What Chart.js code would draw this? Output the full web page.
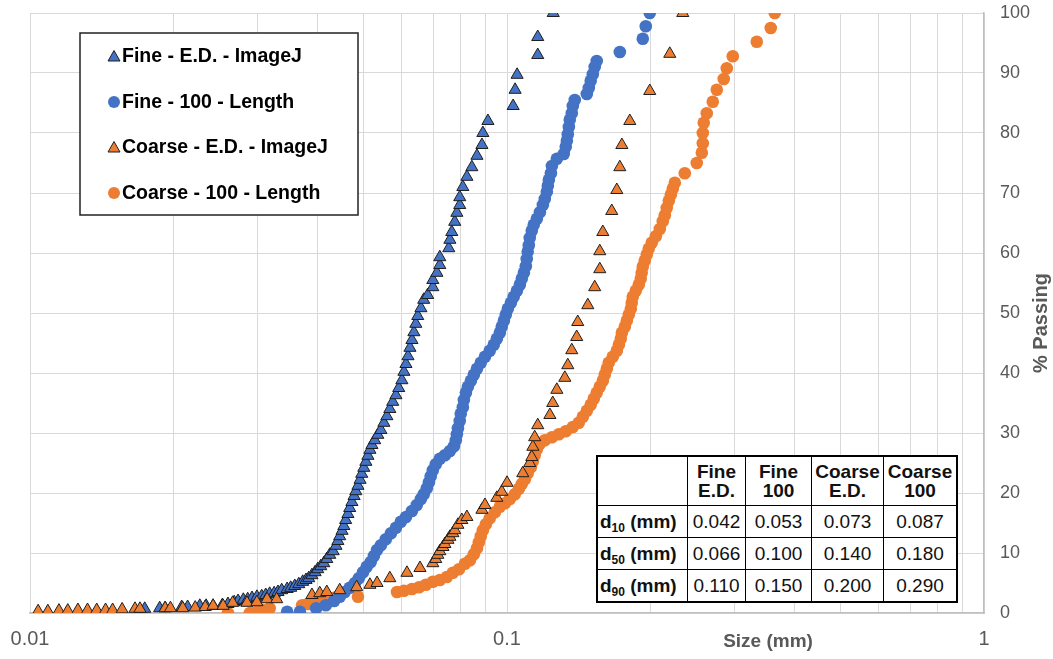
<!DOCTYPE html>
<html>
<head>
<meta charset="utf-8">
<script src="https://cdn.jsdelivr.net/npm/chart.js@4.4.1/dist/chart.umd.min.js"></script>
<style>
  html, body { margin: 0; padding: 0; background: #fff; }
  #wrap { position: relative; width: 1053px; height: 659px; }
  #chart { position: absolute; left: 0; top: 0; }
  table.dtab {
    position: absolute; left: 596px; top: 455px;
    border-collapse: collapse; background: #fff;
    font-family: "Liberation Sans", Arial, sans-serif; font-size: 19px; color: #111;
    border: 2.5px solid #000;
  }
  table.dtab td { border: 1.5px solid #000; text-align: center; padding: 0; line-height: 19px; }
  table.dtab tr.h td { height: 48px; font-weight: bold; }
  table.dtab tr.r td { height: 31px; }
  table.dtab td.lbl { font-weight: bold; text-align: left; padding-left: 2px; }
  table.dtab sub { font-size: 12px; vertical-align: -4px; line-height: 0; }
</style>
</head>
<body>
<div id="wrap">
  <canvas id="chart" width="1053" height="659"></canvas>
  <table class="dtab">
    <tr class="h"><td style="width:89px"></td><td style="width:57px">Fine<br>E.D.</td><td style="width:65px">Fine<br>100</td><td style="width:71px">Coarse<br>E.D.</td><td style="width:72px">Coarse<br>100</td></tr>
    <tr class="r"><td class="lbl">d<sub>10</sub> (mm)</td><td>0.042</td><td>0.053</td><td>0.073</td><td>0.087</td></tr>
    <tr class="r"><td class="lbl">d<sub>50</sub> (mm)</td><td>0.066</td><td>0.100</td><td>0.140</td><td>0.180</td></tr>
    <tr class="r"><td class="lbl">d<sub>90</sub> (mm)</td><td>0.110</td><td>0.150</td><td>0.200</td><td>0.290</td></tr>
  </table>
</div>
<script>
// Fine - E.D. - ImageJ
const fineEdSize = [0.0174,0.0187,0.0192,0.0208,0.0214,0.0227,0.0234,0.0242,0.0253,0.0260,0.0268,0.0273,0.0280,0.0286,0.0292,0.0299,0.0306,0.0312,0.0318,0.0325,0.0331,0.0337,0.0346,0.0352,0.0359,0.0366,0.0373,0.0379,0.0384,0.0390,0.0396,0.0401,0.0407,0.0413,0.0419,0.0425,0.0432,0.0438,0.0442,0.0446,0.0451,0.0455,0.0459,0.0464,0.0468,0.0473,0.0478,0.0482,0.0487,0.0492,0.0496,0.0501,0.0506,0.0511,0.0516,0.0521,0.0528,0.0536,0.0544,0.0552,0.0560,0.0568,0.0576,0.0585,0.0593,0.0602,0.0608,0.0614,0.0620,0.0626,0.0632,0.0638,0.0644,0.0650,0.0660,0.0669,0.0682,0.0699,0.0699,0.0713,0.0723,0.0723,0.0755,0.0759,0.0766,0.0777,0.0785,0.0796,0.0796,0.0808,0.0824,0.0844,0.0865,0.0886,0.0890,0.0912,0.103,0.104,0.105,0.116,0.116,0.125];
const fineEdPassing = [0.7,0.8,0.8,1.0,1.0,1.2,1.2,1.2,1.3,1.5,1.8,2.0,2.2,2.3,2.5,2.7,2.8,3.0,3.2,3.3,3.5,3.8,4.0,4.2,4.5,4.8,5.2,5.5,5.8,6.3,6.8,7.3,7.8,8.3,9.0,9.7,10.3,11.2,12.0,12.8,13.7,14.5,15.5,16.5,17.5,18.5,19.5,20.3,21.2,22.2,23.2,24.2,25.2,26.2,27.2,28.0,28.8,29.7,30.5,31.7,32.8,34.0,35.2,36.3,37.5,38.8,40.2,41.5,42.8,44.2,45.5,46.8,48.2,49.5,50.8,52.2,53.0,54.3,55.5,56.7,58.0,59.3,60.8,62.2,63.5,65.2,66.7,68.0,69.3,71.0,72.7,74.3,76.2,78.0,80.0,82.0,84.5,87.2,89.7,93.0,96.0,100];

// Fine - 100 - Length
const fine100Size = [0.0346,0.0368,0.0398,0.0417,0.0434,0.0446,0.0457,0.0468,0.0480,0.0489,0.0499,0.0508,0.0518,0.0526,0.0534,0.0544,0.0557,0.0571,0.0585,0.0599,0.0614,0.0632,0.0647,0.0660,0.0669,0.0679,0.0686,0.0692,0.0699,0.0709,0.0723,0.0741,0.0759,0.0774,0.0781,0.0785,0.0789,0.0796,0.0800,0.0808,0.0812,0.0820,0.0828,0.0840,0.0852,0.0865,0.0881,0.0899,0.0920,0.0938,0.0952,0.0966,0.0975,0.0985,0.0994,0.1004,0.1019,0.1033,0.1049,0.1064,0.1074,0.1085,0.1095,0.1100,0.1105,0.1111,0.1116,0.1127,0.1138,0.1155,0.1172,0.1189,0.1200,0.1212,0.1218,0.1224,0.1236,0.1242,0.1272,0.1315,0.1328,0.1335,0.1341,0.1348,0.1354,0.1367,0.1374,0.1387,0.1470,0.1484,0.1498,0.1513,0.1527,0.1542,0.1724,0.1926,0.1954,0.1992];
const fine100Passing = [0.2,0.2,0.8,1.3,2.0,2.7,3.5,4.2,5.0,5.8,6.8,7.7,8.5,9.5,10.5,11.3,12.3,13.3,14.2,15.2,16.0,17.0,18.0,19.0,19.8,20.8,21.8,22.8,23.8,24.8,25.7,26.3,27.0,27.8,28.8,29.8,30.8,32.0,33.2,34.3,35.5,36.7,37.7,38.7,39.7,40.7,41.7,42.7,43.7,44.7,45.7,46.7,47.7,48.7,49.7,50.7,51.7,52.7,53.7,54.7,55.7,56.7,57.8,59.0,60.2,61.3,62.5,63.7,64.7,65.7,66.8,68.0,69.0,70.2,71.2,72.2,73.3,74.5,75.7,76.5,77.7,78.7,79.8,81.0,82.2,83.3,84.5,85.5,86.5,87.5,88.7,89.8,91.0,92.0,93.5,95.7,97.8,100];

// Coarse - E.D. - ImageJ
const coarseEdSize = [0.0104,0.0109,0.0115,0.0120,0.0126,0.0132,0.0138,0.0144,0.0149,0.0156,0.0166,0.0170,0.0192,0.0197,0.0209,0.0222,0.0233,0.0242,0.0254,0.0266,0.0285,0.0299,0.0314,0.0329,0.0390,0.0405,0.0419,0.0446,0.0484,0.0516,0.0534,0.0568,0.0617,0.0657,0.0699,0.0709,0.0716,0.0723,0.0734,0.0741,0.0752,0.0759,0.0770,0.0777,0.0789,0.0804,0.0824,0.0886,0.0899,0.0952,0.0975,0.1000,0.1079,0.1116,0.1127,0.1133,0.1143,0.1160,0.1230,0.1247,0.1272,0.1322,0.1341,0.1367,0.1400,0.1407,0.1477,0.1527,0.1565,0.1565,0.1588,0.1658,0.1699,0.1724,0.1741,0.1809,0.1992,0.2194,0.2336];
const coarseEdPassing = [0.3,0.3,0.4,0.4,0.5,0.5,0.5,0.5,0.5,0.6,0.7,0.7,0.8,0.8,0.8,0.9,1.0,1.2,1.2,1.7,1.7,1.8,2.3,2.3,3.0,3.3,3.5,3.8,4.3,4.7,5.0,5.8,6.7,7.5,8.3,9.0,9.7,10.3,11.0,11.5,12.2,12.7,13.3,13.8,14.7,15.5,16.0,17.2,18.0,19.2,20.2,21.7,23.3,25.0,26.0,27.7,29.3,31.3,33.0,35.0,37.2,39.2,41.3,43.8,46.0,48.5,51.3,54.3,57.3,60.3,63.5,67.0,70.5,74.3,78.0,82.0,87.0,93.2,100];

// Coarse - 100 - Length
const coarse100Size = [0.0260,0.0289,0.0299,0.0308,0.0318,0.0372,0.0382,0.0394,0.0405,0.0419,0.0432,0.0442,0.0487,0.0588,0.0608,0.0632,0.0654,0.0676,0.0699,0.0723,0.0748,0.0770,0.0793,0.0816,0.0836,0.0852,0.0865,0.0873,0.0881,0.0890,0.0903,0.0920,0.0943,0.0966,0.0990,0.1014,0.1038,0.1059,0.1074,0.1090,0.1105,0.1122,0.1133,0.1143,0.1155,0.1172,0.1200,0.1242,0.1284,0.1328,0.1374,0.1414,0.1442,0.1470,0.1498,0.1520,0.1542,0.1565,0.1588,0.1603,0.1619,0.1634,0.1666,0.1699,0.1716,0.1732,0.1741,0.1766,0.1783,0.1800,0.1818,0.1826,0.1835,0.1862,0.1889,0.1907,0.1916,0.1926,0.1944,0.1963,0.1982,0.2011,0.2051,0.2091,0.2121,0.2142,0.2162,0.2184,0.2205,0.2226,0.2248,0.2359,0.2499,0.2561,0.2573,0.2573,0.2585,0.2623,0.2700,0.2753,0.2847,0.2889,0.2974,0.3339,0.3572,0.3642];
const coarse100Passing = [0.0,0.0,0.2,0.5,0.8,1.3,1.5,1.7,2.0,2.2,2.5,2.8,2.7,3.5,3.7,4.0,4.3,4.7,5.2,5.5,6.0,6.7,7.3,8.2,8.8,9.8,10.8,11.8,12.8,13.8,14.8,15.8,16.8,17.7,18.3,19.0,19.8,20.7,21.5,22.3,23.3,24.3,25.3,26.3,27.3,28.2,28.8,29.3,29.8,30.3,31.0,31.7,32.7,33.7,34.7,35.7,36.7,37.7,38.7,39.7,40.7,41.7,42.7,43.7,44.7,45.7,46.7,47.7,48.7,49.7,50.7,51.7,52.7,53.7,54.7,55.7,56.7,57.7,58.7,59.7,60.7,61.7,62.8,64.0,65.3,66.3,67.5,68.7,69.7,70.7,71.7,73.3,75.0,76.7,78.3,80.0,81.7,83.3,85.2,87.2,89.0,90.8,92.8,95.2,97.5,100];

const seriesNames = ['Fine - E.D. - ImageJ', 'Fine - 100 - Length', 'Coarse - E.D. - ImageJ', 'Coarse - 100 - Length'];
const xGridValues = [0.01,0.02,0.03,0.04,0.05,0.06,0.07,0.08,0.09,0.1,0.2,0.3,0.4,0.5,0.6,0.7,0.8,0.9,1];
const xTickLabels = [0.01, 0.1, 1];

const BLUE = '#4472C4';
const ORANGE = '#ED7D31';
const GRID = '#d9d9d9';
const TICK = '#595959';
const FONT = "'Liberation Sans', Arial, sans-serif";

function pts(xs, ys) { return xs.map((x, i) => ({ x: x, y: ys[i] })); }

const triStyle = (fill, order) => ({ pointStyle: 'triangle', pointRadius: 7, pointBackgroundColor: fill, pointBorderColor: '#1f1f1f', pointBorderWidth: 1, showLine: false, order: order });
const dotStyle = (fill, order) => ({ pointStyle: 'circle', pointRadius: 6.3, pointBackgroundColor: fill, pointBorderColor: fill, pointBorderWidth: 0, showLine: false, order: order });

// legend box and rotated axis titles
const decor = {
  id: 'decor',
  afterDraw(chart) {
    const ctx = chart.ctx;
    ctx.save();
    ctx.fillStyle = TICK;
    ctx.font = 'bold 19px ' + FONT;
    ctx.textAlign = 'center';
    ctx.textBaseline = 'middle';
    ctx.fillText('Size (mm)', 768, 642);
    ctx.save();
    ctx.translate(1041, 323);
    ctx.rotate(-Math.PI / 2);
    ctx.font = 'bold 20px ' + FONT;
    ctx.fillText('% Passing', 0, 0);
    ctx.restore();

    ctx.fillStyle = '#fff';
    ctx.fillRect(80, 33, 278, 182);
    ctx.strokeStyle = '#222';
    ctx.lineWidth = 1.5;
    ctx.strokeRect(80, 33, 278, 182);
    const rows = [56, 102, 147, 193];
    const fills = [BLUE, BLUE, ORANGE, ORANGE];
    const tri = [true, false, true, false];
    ctx.textAlign = 'left';
    ctx.font = 'bold 19.5px ' + FONT;
    rows.forEach((y, i) => {
      const cx = 114;
      ctx.fillStyle = fills[i];
      if (tri[i]) {
        ctx.beginPath();
        ctx.moveTo(cx, y - 5.5);
        ctx.lineTo(cx + 6, y + 5);
        ctx.lineTo(cx - 6, y + 5);
        ctx.closePath();
        ctx.fill();
        ctx.strokeStyle = '#1f1f1f';
        ctx.lineWidth = 1;
        ctx.stroke();
      } else {
        ctx.beginPath();
        ctx.arc(cx, y, 6, 0, Math.PI * 2);
        ctx.fill();
      }
      ctx.fillStyle = '#000';
      ctx.fillText(seriesNames[i], 122, y + 1);
    });
    ctx.restore();
  }
};

new Chart(document.getElementById('chart'), {
  type: 'scatter',
  data: {
    datasets: [
      Object.assign({ label: seriesNames[0], data: pts(fineEdSize, fineEdPassing) }, triStyle(BLUE, 2)),
      Object.assign({ label: seriesNames[1], data: pts(fine100Size, fine100Passing) }, dotStyle(BLUE, 3)),
      Object.assign({ label: seriesNames[2], data: pts(coarseEdSize, coarseEdPassing) }, triStyle(ORANGE, 1)),
      Object.assign({ label: seriesNames[3], data: pts(coarse100Size, coarse100Passing) }, dotStyle(ORANGE, 4))
    ]
  },
  options: {
    responsive: false,
    animation: false,
    layout: { padding: { left: 30, top: 13, right: 0, bottom: 0 } },
    plugins: { legend: { display: false }, tooltip: { enabled: false } },
    scales: {
      x: {
        type: 'logarithmic',
        min: 0.01,
        max: 1,
        afterBuildTicks: (s) => { s.ticks = xGridValues.map(v => ({ value: v })); },
        afterFit: (s) => { s.height = 46; s.paddingLeft = 0; s.paddingRight = 0; },
        ticks: {
          autoSkip: false,
          maxRotation: 0,
          padding: 14,
          color: TICK,
          font: { family: FONT, size: 20 },
          callback: (v) => xTickLabels.includes(v) ? String(v) : ''
        },
        grid: { color: GRID, lineWidth: 1, drawTicks: false },
        border: { color: '#bfbfbf', width: 1.5 }
      },
      y: {
        position: 'right',
        min: 0,
        max: 100,
        afterFit: (s) => { s.width = 69; s.paddingTop = 0; s.paddingBottom = 0; },
        ticks: { stepSize: 10, padding: 16, color: TICK, font: { family: FONT, size: 18 } },
        grid: { color: GRID, lineWidth: 1, drawTicks: false },
        border: { color: '#bfbfbf', width: 1.5 }
      }
    }
  },
  plugins: [decor]
});
</script>
</body>
</html>
